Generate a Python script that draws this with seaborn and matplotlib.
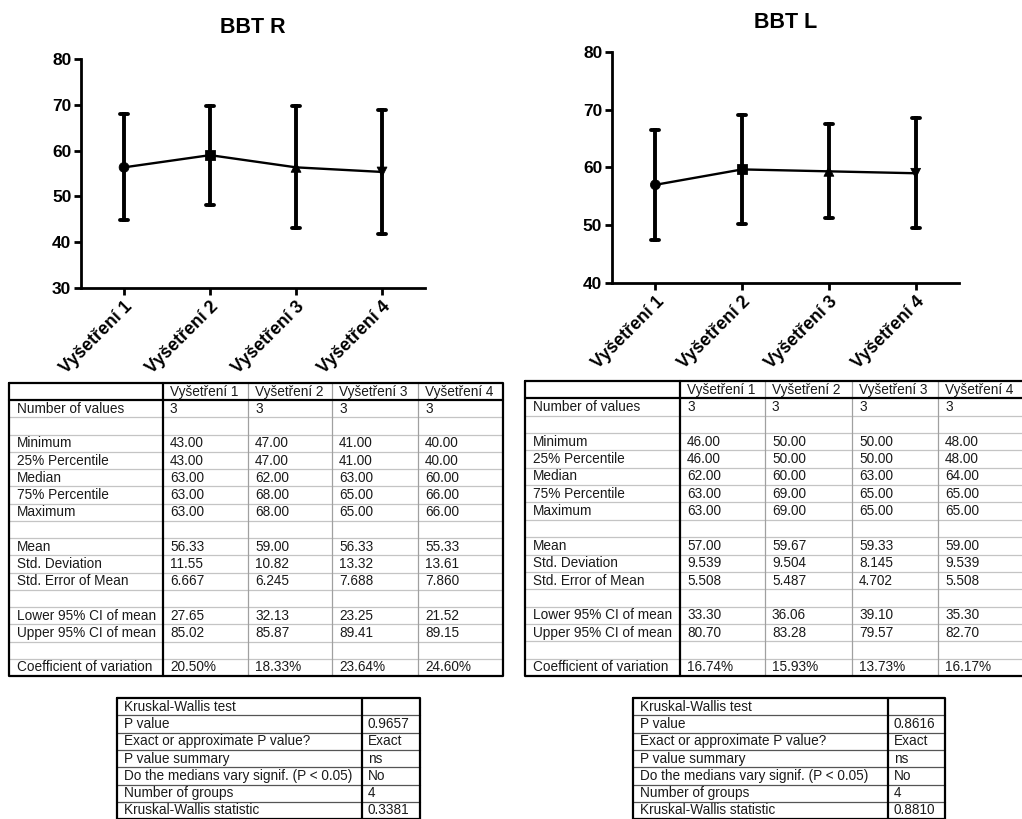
import pandas as pd
import matplotlib.pyplot as plt
import seaborn as sns

exams = ['Vyšetření 1', 'Vyšetření 2', 'Vyšetření 3', 'Vyšetření 4']
exam_markers = ['o', 's', '^', 'v']

r_n = [3, 3, 3, 3]
r_min = [43.0, 47.0, 41.0, 40.0]
r_p25 = [43.0, 47.0, 41.0, 40.0]
r_median = [63.0, 62.0, 63.0, 60.0]
r_p75 = [63.0, 68.0, 65.0, 66.0]
r_max = [63.0, 68.0, 65.0, 66.0]
r_mean = [56.33, 59.00, 56.33, 55.33]
r_sd = [11.55, 10.82, 13.32, 13.61]
r_sem = [6.667, 6.245, 7.688, 7.860]
r_lower = [27.65, 32.13, 23.25, 21.52]
r_upper = [85.02, 85.87, 89.41, 89.15]
r_cv = [20.50, 18.33, 23.64, 24.60]

l_n = [3, 3, 3, 3]
l_min = [46.0, 50.0, 50.0, 48.0]
l_p25 = [46.0, 50.0, 50.0, 48.0]
l_median = [62.0, 60.0, 63.0, 64.0]
l_p75 = [63.0, 69.0, 65.0, 65.0]
l_max = [63.0, 69.0, 65.0, 65.0]
l_mean = [57.00, 59.67, 59.33, 59.00]
l_sd = [9.539, 9.504, 8.145, 9.539]
l_sem = [5.508, 5.487, 4.702, 5.508]
l_lower = [33.30, 36.06, 39.10, 35.30]
l_upper = [80.70, 83.28, 79.57, 82.70]
l_cv = [16.74, 15.93, 13.73, 16.17]

kw_labels = ['Kruskal-Wallis test', 'P value', 'Exact or approximate P value?',
             'P value summary', 'Do the medians vary signif. (P < 0.05)',
             'Number of groups', 'Kruskal-Wallis statistic']
kw_r = ['', '0.9657', 'Exact', 'ns', 'No', '4', '0.3381']
kw_l = ['', '0.8616', 'Exact', 'ns', 'No', '4', '0.8810']

sns.set_style('ticks', {'axes.edgecolor': 'black', 'text.color': 'black',
                        'xtick.color': 'black', 'ytick.color': 'black',
                        'axes.labelcolor': 'black'})
plt.rcParams['font.family'] = ['Liberation Sans', 'DejaVu Sans']


def raw_values(mins, medians, maxs):
    # n = 3 per group, so the observations are min, median and max
    rows = []
    for exam, a, b, c in zip(exams, mins, medians, maxs):
        for v in (a, b, c):
            rows.append({'exam': exam, 'value': v})
    return pd.DataFrame(rows)


def draw_chart(ax, df, means, title, ylim, pad):
    sns.pointplot(data=df, x='exam', y='value', order=exams, errorbar='sd',
                  color='black', markers='', capsize=0.09, linewidth=1.7,
                  err_kws={'linewidth': 2.8}, ax=ax)
    sns.scatterplot(x=exams, y=means, style=exams, markers=dict(zip(exams, exam_markers)),
                    color='black', s=50, edgecolor='black', legend=False, ax=ax, zorder=5)
    ax.set_xlim(-0.5, 3.5)
    ax.set_ylim(*ylim)
    ax.set_yticks(range(ylim[0], ylim[1] + 1, 10))
    ax.set_xlabel('')
    ax.set_ylabel('')
    ax.set_facecolor('none')
    sns.despine(ax=ax)
    for s in ['left', 'bottom']:
        ax.spines[s].set_linewidth(2.0)
        ax.spines[s].set_color('black')
    ax.tick_params(width=2.0, length=5, labelsize=12.5, pad=2, colors='black')
    for lab in ax.get_yticklabels():
        lab.set_fontweight('bold')
    ax.set_xticks(range(len(exams)))
    ax.set_xticklabels(exams, rotation=45, ha='right', rotation_mode='anchor',
                       fontweight='bold', fontsize=12.8)
    ax.set_title(title, fontsize=15.5, fontweight='bold', pad=pad, color='black')


def draw_stats_table(ax, x_edges, top, row_h, cols):
    rows = [('', exams),
            ('Number of values', [str(v) for v in cols[0]]),
            None]
    fmt = lambda vals: [f'{v:#.4g}' for v in vals]
    labels = ['Minimum', '25% Percentile', 'Median', '75% Percentile', 'Maximum']
    rows += [(lab, fmt(v)) for lab, v in zip(labels, cols[1:6])]
    rows.append(None)
    labels = ['Mean', 'Std. Deviation', 'Std. Error of Mean']
    rows += [(lab, fmt(v)) for lab, v in zip(labels, cols[6:9])]
    rows.append(None)
    labels = ['Lower 95% CI of mean', 'Upper 95% CI of mean']
    rows += [(lab, fmt(v)) for lab, v in zip(labels, cols[9:11])]
    rows.append(None)
    rows.append(('Coefficient of variation', [f'{v:.2f}%' for v in cols[11]]))

    bottom = top + row_h * len(rows)
    left, right = x_edges[0], x_edges[-1]
    for i in range(1, len(rows)):
        y = top + i * row_h
        if i == 1:
            ax.plot([left, right], [y, y], color='black', lw=1.6, zorder=3)
        else:
            ax.plot([left, right], [y, y], color='#c4c4c4', lw=0.9, zorder=1)
    for x in x_edges[2:-1]:
        ax.plot([x, x], [top, bottom], color='#a0a0a0', lw=0.9, zorder=2)
    ax.plot([x_edges[1], x_edges[1]], [top, bottom], color='black', lw=1.6, zorder=3)
    ax.plot([left, right, right, left, left], [top, top, bottom, bottom, top],
            color='black', lw=1.6, zorder=3)
    for i, row in enumerate(rows):
        if row is None:
            continue
        y = top + (i + 0.5) * row_h
        ax.text(left + 8, y, row[0], fontsize=9.8, va='center', ha='left', color='#1a1a1a')
        for x, val in zip(x_edges[1:-1], row[1]):
            ax.text(x + 7, y, val, fontsize=9.8, va='center', ha='left', color='#1a1a1a')


def draw_kw_table(ax, x_edges, top, row_h, labels, values):
    left, mid, right = x_edges
    bottom = top + row_h * len(labels)
    for i in range(1, len(labels)):
        y = top + i * row_h
        ax.plot([left, right], [y, y], color='#555555', lw=0.9, zorder=1)
    ax.plot([mid, mid], [top, bottom], color='black', lw=1.6, zorder=3)
    ax.plot([left, right, right, left, left], [top, top, bottom, bottom, top],
            color='black', lw=1.6, zorder=3)
    for i, (lab, val) in enumerate(zip(labels, values)):
        y = top + (i + 0.5) * row_h
        ax.text(left + 7, y, lab, fontsize=9.8, va='center', ha='left', color='#1a1a1a')
        ax.text(mid + 6, y, val, fontsize=9.8, va='center', ha='left', color='#1a1a1a')


fig = plt.figure(figsize=(10.22, 8.19), dpi=100)

# table layer in pixel units
tab = fig.add_axes([0, 0, 1, 1])
tab.set_xlim(0, 1022)
tab.set_ylim(819, 0)
tab.axis('off')

ax_r = fig.add_axes([0.0793, 0.6484, 0.3366, 0.2796])
ax_l = fig.add_axes([0.5988, 0.6545, 0.3396, 0.2820])

draw_chart(ax_r, raw_values(r_min, r_median, r_max), r_mean, 'BBT R', (30, 80), 19)
draw_chart(ax_l, raw_values(l_min, l_median, l_max), l_mean, 'BBT L', (40, 80), 17)

draw_stats_table(tab, [9, 163, 248, 332, 418, 503], 383, 17.24,
                 [r_n, r_min, r_p25, r_median, r_p75, r_max, r_mean, r_sd, r_sem,
                  r_lower, r_upper, r_cv])
draw_stats_table(tab, [525, 680, 765, 852, 938, 1030], 381, 17.35,
                 [l_n, l_min, l_p25, l_median, l_p75, l_max, l_mean, l_sd, l_sem,
                  l_lower, l_upper, l_cv])

draw_kw_table(tab, [117, 362, 420], 698, 17.3, kw_labels, kw_r)
draw_kw_table(tab, [633, 888, 945], 698, 17.3, kw_labels, kw_l)

fig.savefig('out.png', dpi=100)
